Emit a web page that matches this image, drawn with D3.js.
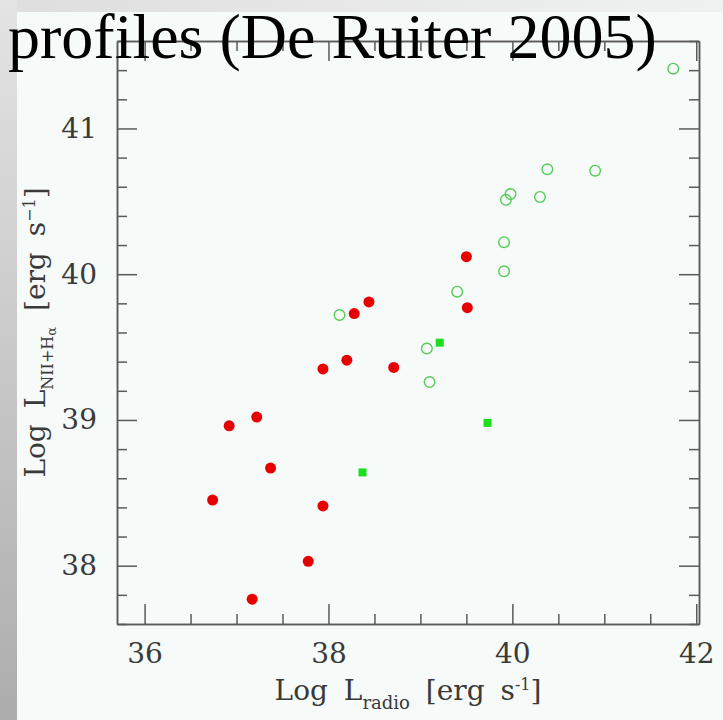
<!DOCTYPE html>
<html>
<head>
<meta charset="utf-8">
<script src="https://cdn.jsdelivr.net/npm/d3@7"></script>
<style>
  body { margin: 0; background: #f6faf8; }
  svg { display: block; }
</style>
</head>
<body>
<script>
// log L_radio / log L_NII+Halpha
var redX = [38.44, 38.28, 39.51, 38.20, 37.94, 38.71, 37.22, 36.92, 37.37, 36.74, 37.94, 37.78, 37.17, 39.50];
var redY = [39.81, 39.73, 39.77, 39.41, 39.35, 39.36, 39.02, 38.96, 38.67, 38.45, 38.41, 38.03, 37.77, 40.12];

var openX = [38.12, 39.40, 39.07, 39.10, 40.38, 40.90, 39.98, 39.93, 40.30, 39.91, 39.91, 41.75];
var openY = [39.72, 39.88, 39.49, 39.26, 40.72, 40.71, 40.55, 40.51, 40.53, 40.22, 40.02, 41.41];

var sqX = [39.21, 39.73, 38.37];
var sqY = [39.53, 38.98, 38.64];

var xMajor = [36, 38, 40, 42];
var yMajor = [38, 39, 40, 41];

const W = 723, H = 720;
const pLeft = 117, pRight = 699, pTop = 41, pBottom = 624;

const svg = d3.select("body").append("svg")
  .attr("width", W)
  .attr("height", H);

// slide background with grey edge bands
var defs = svg.append("defs");
var gl = defs.append("linearGradient").attr("id", "gl")
  .attr("x1", 0).attr("y1", 0).attr("x2", 0).attr("y2", 1);
gl.append("stop").attr("offset", "0%").attr("stop-color", "#e4e4e4");
gl.append("stop").attr("offset", "100%").attr("stop-color", "#adadad");
var gt = defs.append("linearGradient").attr("id", "gt")
  .attr("x1", 0).attr("y1", 0).attr("x2", 1).attr("y2", 0);
gt.append("stop").attr("offset", "0%").attr("stop-color", "#dedede");
gt.append("stop").attr("offset", "100%").attr("stop-color", "#f0f2f1");

svg.append("rect").attr("width", W).attr("height", H).attr("fill", "#f6faf8");
svg.append("rect").attr("x", 0).attr("y", 0).attr("width", W).attr("height", 12).attr("fill", "url(#gt)");
svg.append("rect").attr("x", 0).attr("y", 0).attr("width", 17).attr("height", H).attr("fill", "url(#gl)");

const x = d3.scaleLinear().domain([35.7, 42.03]).range([pLeft, pRight]);
const y = d3.scaleLinear().domain([37.6, 41.6]).range([pBottom, pTop]);

var xMinor = d3.range(36, 42.01, 0.5).filter(v => xMajor.indexOf(v) < 0);
var yMinor = d3.range(37.6, 41.61, 0.2).map(v => +v.toFixed(1)).filter(v => yMajor.indexOf(v) < 0);

function styleAxis(g) {
  g.selectAll("path").attr("stroke", "#5a5a5a").attr("stroke-width", 1.5);
  g.selectAll("line").attr("stroke", "#5a5a5a").attr("stroke-width", 1.5);
  g.selectAll("text").attr("fill", "#3a3a3a")
    .style("font-family", "'DejaVu Serif', serif").style("font-size", "28px");
}

// bottom
svg.append("g").attr("transform", "translate(0," + pBottom + ")")
  .call(d3.axisBottom(x).tickValues(xMajor).tickSizeInner(-20).tickSizeOuter(0).tickPadding(19).tickFormat(d3.format("d")))
  .call(styleAxis);
svg.append("g").attr("transform", "translate(0," + pBottom + ")")
  .call(d3.axisBottom(x).tickValues(xMinor).tickSizeInner(-10).tickSizeOuter(0).tickFormat(""))
  .call(styleAxis);
// top
svg.append("g").attr("transform", "translate(0," + pTop + ")")
  .call(d3.axisTop(x).tickValues(xMajor).tickSizeInner(-20).tickSizeOuter(0).tickFormat(""))
  .call(styleAxis);
svg.append("g").attr("transform", "translate(0," + pTop + ")")
  .call(d3.axisTop(x).tickValues(xMinor).tickSizeInner(-10).tickSizeOuter(0).tickFormat(""))
  .call(styleAxis);
// left
svg.append("g").attr("transform", "translate(" + pLeft + ",0)")
  .call(d3.axisLeft(y).tickValues(yMajor).tickSizeInner(-20).tickSizeOuter(0).tickPadding(20).tickFormat(d3.format("d")))
  .call(styleAxis);
svg.append("g").attr("transform", "translate(" + pLeft + ",0)")
  .call(d3.axisLeft(y).tickValues(yMinor).tickSizeInner(-10).tickSizeOuter(0).tickFormat(""))
  .call(styleAxis);
// right
svg.append("g").attr("transform", "translate(" + pRight + ",0)")
  .call(d3.axisRight(y).tickValues(yMajor).tickSizeInner(-20).tickSizeOuter(0).tickFormat(""))
  .call(styleAxis);
svg.append("g").attr("transform", "translate(" + pRight + ",0)")
  .call(d3.axisRight(y).tickValues(yMinor).tickSizeInner(-10).tickSizeOuter(0).tickFormat(""))
  .call(styleAxis);

// points
svg.selectAll(".red").data(redX).enter().append("circle")
  .attr("cx", d => x(d))
  .attr("cy", (d, i) => y(redY[i]))
  .attr("r", 5.5)
  .attr("fill", "#e60000");

svg.selectAll(".open").data(openX).enter().append("circle")
  .attr("cx", d => x(d))
  .attr("cy", (d, i) => y(openY[i]))
  .attr("r", 5.3)
  .attr("fill", "none")
  .attr("stroke", "#55cc55")
  .attr("stroke-width", 1.4);

svg.selectAll(".sq").data(sqX).enter().append("rect")
  .attr("x", d => x(d) - 4)
  .attr("y", (d, i) => y(sqY[i]) - 4)
  .attr("width", 8)
  .attr("height", 8)
  .attr("fill", "#1de01d");

// axis titles
var xl = svg.append("text")
  .attr("x", (pLeft + pRight) / 2).attr("y", 700)
  .attr("text-anchor", "middle")
  .attr("fill", "#3a3a3a")
  .style("word-spacing", "7px")
  .style("font-family", "'DejaVu Serif', serif").style("font-size", "28px");
xl.append("tspan").text("Log L");
xl.append("tspan").attr("dy", 9).style("font-size", "18px").text("radio");
xl.append("tspan").attr("dy", -9).text(" [erg s");
xl.append("tspan").attr("dy", -10).style("font-size", "16px").text("-1");
xl.append("tspan").attr("dy", 10).text("]");

var yl = svg.append("text")
  .attr("transform", "translate(45," + ((pTop + pBottom) / 2) + ") rotate(-90)")
  .attr("text-anchor", "middle")
  .attr("fill", "#3a3a3a")
  .style("word-spacing", "7px")
  .style("font-family", "'DejaVu Serif', serif").style("font-size", "28px");
yl.append("tspan").text("Log L");
yl.append("tspan").attr("dy", 8).style("font-size", "16px").text("NII+H");
yl.append("tspan").attr("dy", 3).style("font-size", "13px").text("\u03b1");
yl.append("tspan").attr("dy", -11).text(" [erg s");
yl.append("tspan").attr("dy", -10).style("font-size", "16px").text("\u22121");
yl.append("tspan").attr("dy", 10).text("]");

// slide title, overlapping the frame
svg.append("text")
  .attr("x", 8).attr("y", 58)
  .attr("fill", "#000")
  .style("font-family", "'Liberation Serif', 'Times New Roman', serif")
  .style("font-size", "64px")
  .text("profiles (De Ruiter 2005)");
</script>
</body>
</html>
